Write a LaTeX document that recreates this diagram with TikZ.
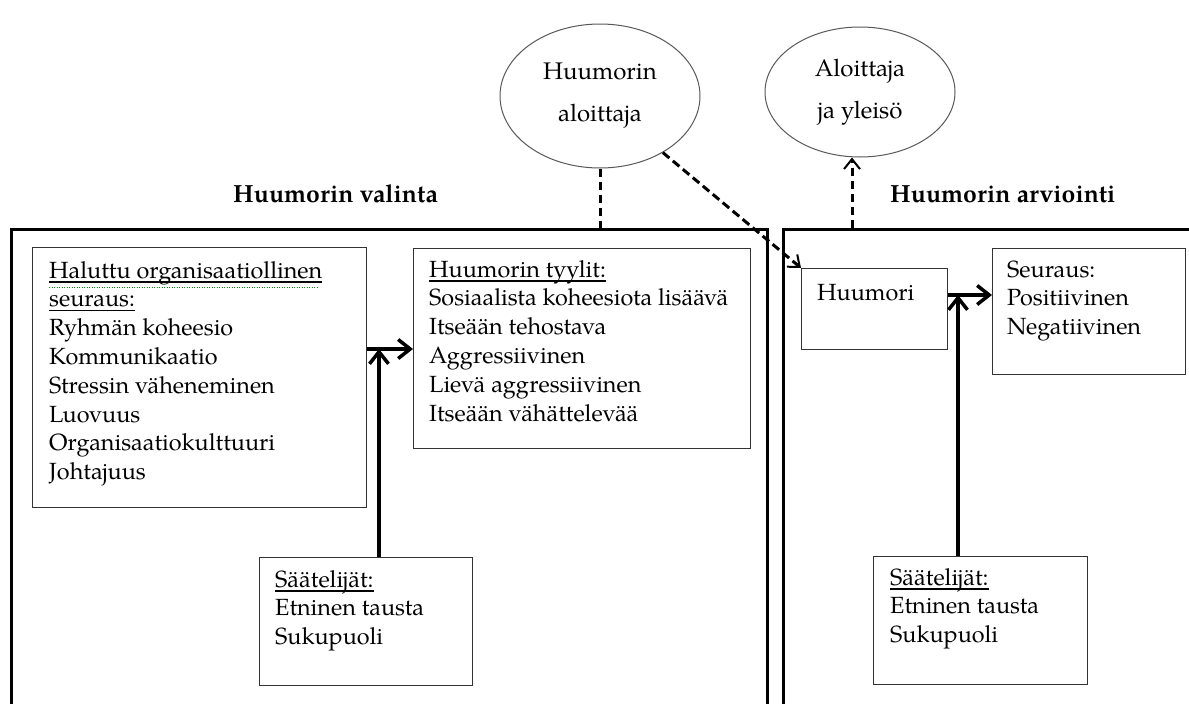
\documentclass[tikz,border=0pt]{standalone}
\usepackage{fontspec}
\setmainfont{texgyrepagella}[Extension=.otf, UprightFont=*-regular, BoldFont=*-bold, ItalicFont=*-italic, BoldItalicFont=*-bolditalic]
\usetikzlibrary{shapes.geometric,arrows.meta}
\newcommand\ulx[1]{\leavevmode\setbox0\hbox{#1}\rlap{\rule[-4.5pt]{\wd0}{1.1pt}}\box0}
\newcommand\txt[1]{\parbox[t]{420pt}{\fontsize{23.4}{28.8}\selectfont #1}}
\tikzset{
  bigbox/.style={draw=black, line width=3pt, rectangle, inner sep=0pt, anchor=north west},
  smallbox/.style={draw=black!80, line width=1.4pt, rectangle, inner sep=0pt, anchor=north west},
  oval/.style={draw=black!65, line width=1pt, ellipse, inner sep=0pt, align=center, font=\fontsize{24}{42}\selectfont},
  boxtext/.style={anchor=base west, inner sep=0pt},
  title/.style={anchor=base west, inner sep=0pt, font=\fontsize{24.8}{29}\selectfont\bfseries},
  dashline/.style={line width=3pt, dash pattern=on 8.5pt off 4.5pt},
  dasharrow/.style={dashline, -{Straight Barb[length=10pt,width=16pt,line width=2pt]}},
  arr/.style={line width=4pt, -{Straight Barb[length=12pt,width=19pt,line width=3.5pt]}},
}
\begin{document}
\begin{tikzpicture}[x=1pt,y=-1pt]
\useasboundingbox (0,0) rectangle (1189,704);
\clip (0,0) rectangle (1189,704);
\fill[white] (0,0) rectangle (1189,704);

% ellipses
\node[oval, minimum width=200, minimum height=144] (H) at (600,96) {Huumorin\\aloittaja};
\node[oval, minimum width=190, minimum height=130] (Y) at (860,92) {Aloittaja\\ja yleisö};

% titles
\node[title] (t1) at (233,202) {Huumorin valinta};
\node[title] (t2) at (890,202) {Huumorin arviointi};

% big frames
\node[bigbox, minimum width=756, minimum height=500] (L) at (10,228) {};
\node[bigbox, minimum width=430, minimum height=500] (R) at (782,228) {};

% small boxes
\node[smallbox, minimum width=334, minimum height=260] (A) at (32,247) {};
\node[smallbox, minimum width=337, minimum height=200] (B) at (413,248) {};
\node[smallbox, minimum width=213, minimum height=128] (C) at (259,557) {};
\node[smallbox, minimum width=146, minimum height=81] (Hu) at (801,268) {};
\node[smallbox, minimum width=193, minimum height=126] (S) at (992,248) {};
\node[smallbox, minimum width=214, minimum height=128] (D) at (873,556) {};

% texts
\node[boxtext] (tA) at (49,278) {\txt{\ulx{Haluttu organisaatiollinen}\\ \ulx{seuraus:}\\ Ryhmän koheesio\\ Kommunikaatio\\ Stressin väheneminen\\ Luovuus\\ Organisaatiokulttuuri\\ Johtajuus}};
\draw[green!55!black, line width=1pt, dash pattern=on 1pt off 1.5pt] (49,287.5) -- (318,287.5);
\node[boxtext] (tB) at (429,277) {\txt{\ulx{Huumorin tyylit:}\\ Sosiaalista koheesiota lisäävä\\ Itseään tehostava\\ Aggressiivinen\\ Lievä aggressiivinen\\ Itseään vähättelevää}};
\node[boxtext] (tC) at (275,587) {\txt{\ulx{Säätelijät:}\\ Etninen tausta\\ Sukupuoli}};
\node[boxtext] (tHu) at (817,300) {\txt{Huumori}};
\node[boxtext] (tS) at (1007,277) {\txt{Seuraus:\\ Positiivinen\\ Negatiivinen}};
\node[boxtext] (tD) at (890,585) {\txt{\ulx{Säätelijät:}\\ Etninen tausta\\ Sukupuoli}};

% junctions
\coordinate (j1) at (379,349);
\coordinate (j2) at (958,295);
\coordinate (rtop) at (852,228);

% solid arrows
\draw[arr] (A.east |- j1) -- (B.west |- j1);
\draw[arr] (C.north -| j1) -- (j1);
\draw[arr] (Hu.east |- j2) -- (S.west |- j2);
\draw[arr] (D.north -| j2) -- (j2);

% dashed connectors
\draw[dashline] (H.south) -- (H.south |- L.north);
\draw[dasharrow] (H.-42) -- (Hu.north west);
\draw[dasharrow] (rtop) -- (rtop |- Y.south);
\end{tikzpicture}
\end{document}
